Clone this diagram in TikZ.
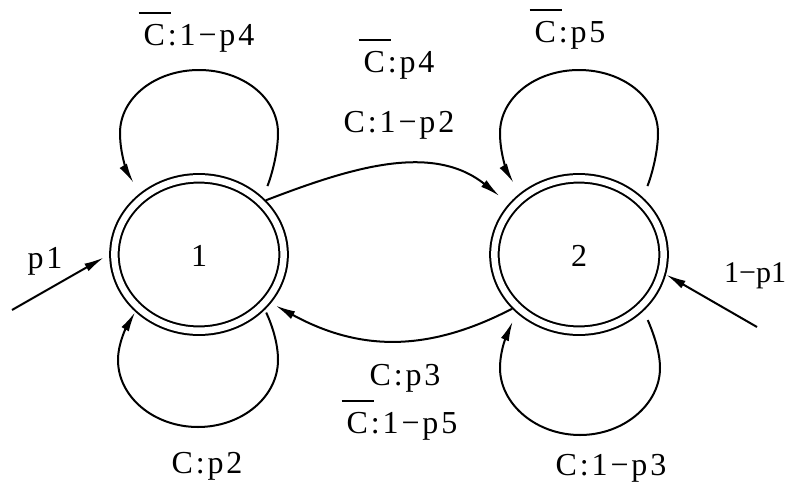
\documentclass[tikz,border=0pt]{standalone}
\usepackage{fontspec}
\setmainfont{Liberation Serif}[LetterSpace=9]
\usetikzlibrary{arrows.meta,shapes.geometric}
\newcommand\cbar{\makebox[0pt][l]{\hspace{-5pt}\rule[31pt]{32pt}{1.8pt}}C}
\begin{document}
\begin{tikzpicture}[x=1pt,y=-1pt, line width=2pt,
  state/.style={ellipse, draw, double, double distance=6.5pt,
    minimum width=169.2pt, minimum height=152.4pt, inner sep=0pt,
    outer sep=5.25pt, font=\fontsize{32}{38}\selectfont},
  lab/.style={anchor=base, inner sep=0pt, font=\fontsize{32}{38}\selectfont},
  arr/.style={-{Latex[length=20pt,width=8.5pt]}}]
\useasboundingbox (0,0) rectangle (788,485);
\node[state] (s1) at (199,254.5) {\raisebox{-12pt}[0pt][0pt]{1}};
\node[state] (s2) at (579,254.5) {\raisebox{-12pt}[0pt][0pt]{2}};
% transitions between states
\draw[arr, shorten >=12pt] (s1.39) .. controls (350,168) and (432,142) .. (s2.144);
\draw[arr, shorten >=5pt] (s2.219) .. controls (425,354) and (357,350) .. (s1.326);
% self loops
\draw[arr, shorten <=12pt, shorten >=12pt] (s1.42) .. controls (270,180) and (278,155) .. (278,133)
  .. controls (278,98) and (243,70) .. (199,70) .. controls (155,70) and (120,98) .. (120,133)
  .. controls (120,158) and (130,177) .. (s1.134);
\draw[arr, shorten <=12pt, shorten >=12pt] (s2.42) .. controls (650,180) and (658,155) .. (658,133)
  .. controls (658,98) and (623,70) .. (579,70) .. controls (535,70) and (500,98) .. (500,133)
  .. controls (500,158) and (510,177) .. (s2.134);
\draw[arr, shorten <=3pt] (s1.320) .. controls (272,325) and (278,343) .. (278,360)
  .. controls (278,397) and (242,427) .. (198,427) .. controls (154,427) and (118,397) .. (118,360)
  .. controls (118,343) and (127,326) .. (s1.222);
\draw[arr, shorten <=10pt, shorten >=9pt] (s2.319) .. controls (652,330) and (660,350) .. (660,368)
  .. controls (660,404) and (624,435) .. (580,435) .. controls (536,435) and (500,404) .. (500,368)
  .. controls (500,348) and (509,330) .. (s2.223);
% initial arrows
\coordinate (i1) at (12,310);
\draw[arr, shorten >=6pt] (i1) -- (s1.west);
\coordinate (i2) at (757,327);
\draw[arr] (i2) -- (s2.347);
% labels
\node[lab] (l1) at (199,45) {\cbar:1−p4};
\node[lab] (l2) at (399,72) {\cbar:p4};
\node[lab] (l3) at (399,132) {C:1−p2};
\node[lab] (l4) at (570,42) {\cbar:p5};
\node[lab] (l5) at (405,385) {C:p3};
\node[lab] (l6) at (402,433) {\cbar:1−p5};
\node[lab] (l7) at (207,473) {C:p2};
\node[lab] (l8) at (611,475) {C:1−p3};
\node[lab] (l9) at (45,268) {p1};
\node[lab, anchor=base east, font=\fontsize{30}{36}\selectfont\addfontfeature{LetterSpace=0}] (l10) at (787,282) {1−p1};
\end{tikzpicture}
\end{document}
